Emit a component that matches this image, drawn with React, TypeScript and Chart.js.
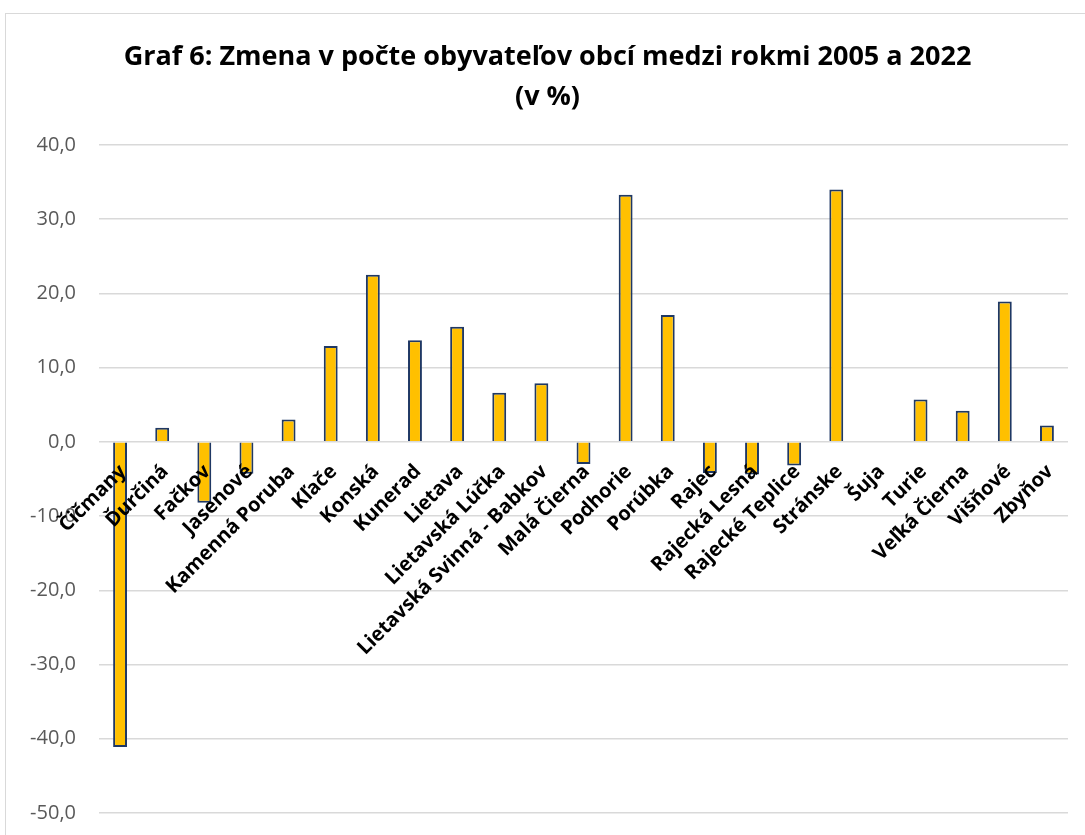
import React, { useEffect, useRef } from "react";
import { Chart, registerables } from "chart.js";

Chart.register(...registerables);

const titleLines = [
  "Graf 6: Zmena v počte obyvateľov obcí medzi rokmi 2005 a 2022",
  "(v %)",
];

const categories = [
  "Čičmany",
  "Ďurčiná",
  "Fačkov",
  "Jasenové",
  "Kamenná Poruba",
  "Kľače",
  "Konská",
  "Kunerad",
  "Lietava",
  "Lietavská Lúčka",
  "Lietavská Svinná - Babkov",
  "Malá Čierna",
  "Podhorie",
  "Porúbka",
  "Rajec",
  "Rajecká Lesná",
  "Rajecké Teplice",
  "Stránske",
  "Šuja",
  "Turie",
  "Veľká Čierna",
  "Višňové",
  "Zbyňov",
];

const changePct = [
  -41.1, 1.9, -8.2, -4.3, 3.0, 12.9, 22.5, 13.7, 15.5, 6.6, 7.9, -3.0, 33.3,
  17.1, -4.2, -4.4, -3.2, 34.0, 0.0, 5.7, 4.2, 18.9, 2.2,
];

const yMin = -50;
const yMax = 40;
const yStep = 10;

export default function App() {
  const canvasRef = useRef<HTMLCanvasElement | null>(null);

  useEffect(() => {
    document.body.style.margin = "0";
    const canvas = canvasRef.current;
    if (!canvas) return;
    const chart = new Chart(canvas, {
      type: "bar",
      data: {
        labels: categories,
        datasets: [
          {
            data: changePct,
            backgroundColor: "#ffc000",
            borderColor: "#1f3864",
            borderWidth: 2,
            categoryPercentage: 0.33,
            barPercentage: 1,
          },
        ],
      },
      options: {
        responsive: false,
        maintainAspectRatio: false,
        animation: false,
        layout: { padding: { left: 21, right: 36, top: 0, bottom: 41 } },
        plugins: {
          legend: { display: false },
          tooltip: { enabled: false },
          title: {
            display: true,
            text: titleLines,
            color: "#000000",
            font: { family: "Open Sans", weight: "bold", size: 27, lineHeight: 1.48 },
            padding: { top: 23, bottom: 28 },
          },
        },
        scales: {
          x: {
            type: "category",
            position: { y: 0 } as any,
            grid: { display: false },
            border: { display: false },
            ticks: {
              z: 1,
              autoSkip: false,
              minRotation: 45,
              maxRotation: 45,
              color: "#000000",
              padding: 10,
              labelOffset: 3,
              font: { family: "Open Sans", weight: "bold", size: 20 },
            },
          },
          y: {
            min: yMin,
            max: yMax,
            border: { display: false },
            grid: { color: "#d9d9d9", lineWidth: 1.5, drawTicks: false },
            ticks: {
              stepSize: yStep,
              color: "#595959",
              padding: 23,
              font: { family: "Open Sans", size: 20 },
              callback: (v: any) => Number(v).toFixed(1).replace(".", ","),
            },
            afterFit: (s: any) => {
              s.width = 72;
            },
          },
        },
      },
    });
    return () => chart.destroy();
  }, []);

  return (
    <div
      style={{
        position: "fixed",
        left: 0,
        top: 0,
        width: 1085,
        height: 835,
        overflow: "hidden",
        background: "#ffffff",
      }}
    >
      <div
        style={{
          position: "absolute",
          left: 5,
          top: 13,
          width: 1098,
          height: 840,
          border: "1px solid #d9d9d9",
          background: "#ffffff",
        }}
      >
        <canvas
          ref={canvasRef}
          width={1098}
          height={840}
          style={{ display: "block", width: 1098, height: 840 }}
        />
      </div>
    </div>
  );
}
